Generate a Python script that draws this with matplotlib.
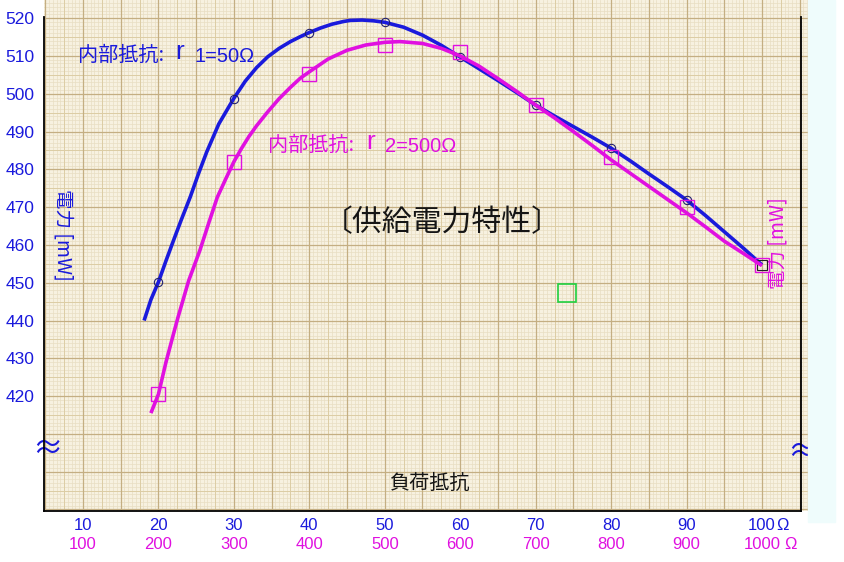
import numpy as np
import matplotlib
matplotlib.use("Agg")
import matplotlib.pyplot as plt
from matplotlib.patches import Rectangle

plt.rcParams['font.family'] = ['Noto Sans CJK JP', 'DejaVu Sans']
NUMFONT = ['Liberation Sans', 'DejaVu Sans']

# marker values at R = 20..100 (r1 series, left axis, mW) and 200..1000 (r2 series, right axis)
x_pts = [20, 30, 40, 50, 60, 70, 80, 90, 100]
p1_pts = [450.2, 498.6, 516.0, 518.9, 509.7, 497.0, 485.6, 471.9, 454.7]
p2_pts = [42.05, 48.19, 50.52, 51.29, 51.10, 49.70, 48.32, 47.00, 45.47]

# hand drawn curves
x_c1 = [18.1, 19, 20, 21, 22, 23, 24.2, 25.3, 26.4, 28, 30, 31.5, 33, 34.5, 36, 37.5, 38.8, 40, 41.5, 43,
        44.5, 45.4, 47, 48.5, 50, 52.5, 55, 57.5, 60, 62.5, 65, 67.5, 70, 72.5, 75, 77.5, 80, 82.5, 85,
        87.5, 90, 92.5, 95, 97.5, 100]
p1_c = [440.0, 445.5, 450.2, 455.8, 461.2, 466.5, 472.6, 478.8, 484.6, 492.0, 498.8, 503.3, 506.9, 509.8,
        512.0, 513.8, 515.1, 516.2, 517.4, 518.4, 519.1, 519.4, 519.5, 519.3, 518.9, 517.6, 515.5, 512.8,
        509.7, 506.6, 503.5, 500.3, 497.0, 494.1, 491.3, 488.5, 485.6, 482.3, 478.8, 475.4, 471.9, 467.8,
        463.5, 459.2, 454.7]
x_c2 = [19.0, 20, 21, 22, 22.6, 24, 25.5, 26.7, 27.8, 29, 30, 31, 32, 33, 34.4, 36, 37.5, 38.8, 40, 42.5,
        45, 47.5, 50, 52, 55, 57.5, 60, 62.5, 65, 67.5, 70, 72.5, 75, 77.5, 80, 82.5, 85, 87.5, 90, 92.5,
        95, 97.5, 100]
p2_c = [41.55, 42.05, 42.90, 43.65, 44.09, 45.05, 45.86, 46.60, 47.26, 47.78, 48.20, 48.55, 48.87, 49.15,
        49.50, 49.87, 50.17, 50.41, 50.58, 50.92, 51.15, 51.29, 51.36, 51.38, 51.33, 51.20, 51.00, 50.73,
        50.40, 50.06, 49.70, 49.36, 49.00, 48.63, 48.25, 47.90, 47.55, 47.20, 46.85, 46.48, 46.10, 45.78,
        45.45]

x_ticks = [10, 20, 30, 40, 50, 60, 70, 80, 90, 100]
x_labels1 = ['10', '20', '30', '40', '50', '60', '70', '80', '90', '100']
x_labels2 = ['100', '200', '300', '400', '500', '600', '700', '800', '900', '1000']
y_ticks = [420, 430, 440, 450, 460, 470, 480, 490, 500, 510, 520]
y2_ticks = [42, 43, 44, 45, 46, 47, 48, 49, 50, 51, 52]

BLUE = '#1a1adc'
MAG = '#e010e0'
PAPER = '#f7f1e0'

fig = plt.figure(figsize=(8.45, 5.62), dpi=100)
fig.patches.append(Rectangle((808 / 845, 1 - 522 / 562), 27 / 845, 522 / 562,
                             transform=fig.transFigure, color='#effcfc', zorder=0))
ax = fig.add_axes([44 / 845, 1 - 511 / 562, 764 / 845, 511 / 562])
ax.set_facecolor(PAPER)
x0, x1 = 4.83, 106.1
y0, y1 = 389.6, 524.8
ax.set_xlim(x0, x1)
ax.set_ylim(y0, y1)

# graph paper
for v in np.arange(5, 106.1, 0.5):
    if v % 5 == 0:
        ax.axvline(v, color='#c4ae82', lw=0.9, zorder=0.3)
    elif v % 2.5 == 0:
        ax.axvline(v, color='#dccca4', lw=0.7, zorder=0.2)
    else:
        ax.axvline(v, color='#e8dec2', lw=0.5, zorder=0.1)
for v in np.arange(390, 525, 1):
    if v % 10 == 0:
        ax.axhline(v, color='#c4ae82', lw=0.9, zorder=0.3)
    elif v % 5 == 0:
        ax.axhline(v, color='#dccca4', lw=0.7, zorder=0.2)
    else:
        ax.axhline(v, color='#e8dec2', lw=0.5, zorder=0.1)

ax.spines['top'].set_visible(False)
ax.spines['left'].set_bounds(y0, 520.3)
ax.spines['bottom'].set_bounds(x0, 105.2)
ax.spines['right'].set_position(('data', 105.2))
ax.spines['right'].set_bounds(y0, 520.3)
for s in ['left', 'bottom', 'right']:
    ax.spines[s].set_linewidth(1.3)
    ax.spines[s].set_zorder(3)

ax.set_yticks(y_ticks)
ax.tick_params(axis='y', length=0, pad=7, labelcolor=BLUE, labelsize=12.5)
for t in ax.get_yticklabels():
    t.set_family(NUMFONT)
ax.set_xticks(x_ticks)
ax.set_xticklabels([])
ax.tick_params(axis='x', length=0)

tr = ax.get_xaxis_transform()
for xv, l1, l2 in zip(x_ticks, x_labels1, x_labels2):
    ax.text(xv, -0.014, l1, transform=tr, ha='center', va='top', color=BLUE, fontsize=12,
            family=NUMFONT, clip_on=False)
    ax.text(xv, -0.051, l2, transform=tr, ha='center', va='top', color=MAG, fontsize=12,
            family=NUMFONT, clip_on=False)
ax.text(101.9, -0.014, 'Ω', transform=tr, ha='left', va='top', color=BLUE, fontsize=12,
        family=NUMFONT, clip_on=False)
ax.text(102.9, -0.051, 'Ω', transform=tr, ha='left', va='top', color=MAG, fontsize=12,
        family=NUMFONT, clip_on=False)

ax2 = ax.twinx()
ax2.set_ylim(y0 / 10, y1 / 10)
ax2.set_yticks(y2_ticks)
ax2.tick_params(axis='y', length=0, pad=3, labelcolor=MAG, labelsize=12.5)
for t in ax2.get_yticklabels():
    t.set_family(NUMFONT)
for s in ax2.spines.values():
    s.set_visible(False)

# curves
ax.plot(x_c1, p1_c, color=BLUE, lw=2.6, zorder=4, solid_capstyle='butt')
ax2.plot(x_c2, p2_c, color=MAG, lw=2.6, zorder=4, solid_capstyle='butt')
ax.plot(x_pts[:-1], p1_pts[:-1], 'o', mfc='none', mec='#202070', ms=6, mew=0.8, zorder=5)
ax.plot(x_pts[-1:], p1_pts[-1:], 's', mfc='none', mec='#202020', ms=7, mew=0.8, zorder=5)
ax2.plot(x_pts, p2_pts, 's', mfc='none', mec=MAG, ms=10, mew=1.0, zorder=5)
ax.plot([74.2], [447.2], 's', mfc='none', mec='#20d040', ms=13, mew=1.2, zorder=5)

# curve labels: CJK part, a larger "r", then the value
ax.text(9.3, 510.2, '内部抵抗:', color=BLUE, fontsize=14.5, va='center', ha='left')
ax.text(22.2, 511.0, 'r', color=BLUE, fontsize=19, va='center', ha='left', family=NUMFONT)
ax.text(24.8, 509.8, '1=50Ω', color=BLUE, fontsize=14.5, va='center', ha='left', family=NUMFONT)
ax.text(34.5, 486.4, '内部抵抗:', color=MAG, fontsize=14.5, va='center', ha='left')
ax.text(47.5, 487.2, 'r', color=MAG, fontsize=19, va='center', ha='left', family=NUMFONT)
ax.text(50.0, 486.0, '2=500Ω', color=MAG, fontsize=14.5, va='center', ha='left', family=NUMFONT)

ax.text(57.6, 466.0, '〔供給電力特性〕', color='#151515', fontsize=21.5, va='center', ha='center')
ax.text(55.9, 397.0, '負荷抵抗', color='#151515', fontsize=14.5, va='center', ha='center')
ax.text(7.4, 462.6, '電力 [mW]', color=BLUE, fontsize=14, rotation=-90, va='center', ha='center')
ax.text(102.1, 460.5, '電力 [mW]', color=MAG, fontsize=14, rotation=90, va='center', ha='center')
ax.text(5.3, 406.0, '≈', color=BLUE, fontsize=22, va='center', ha='center', clip_on=False)
ax.text(105.3, 405.0, '≈', color=BLUE, fontsize=22, va='center', ha='center', clip_on=False)

fig.savefig('out.png', dpi=100)
